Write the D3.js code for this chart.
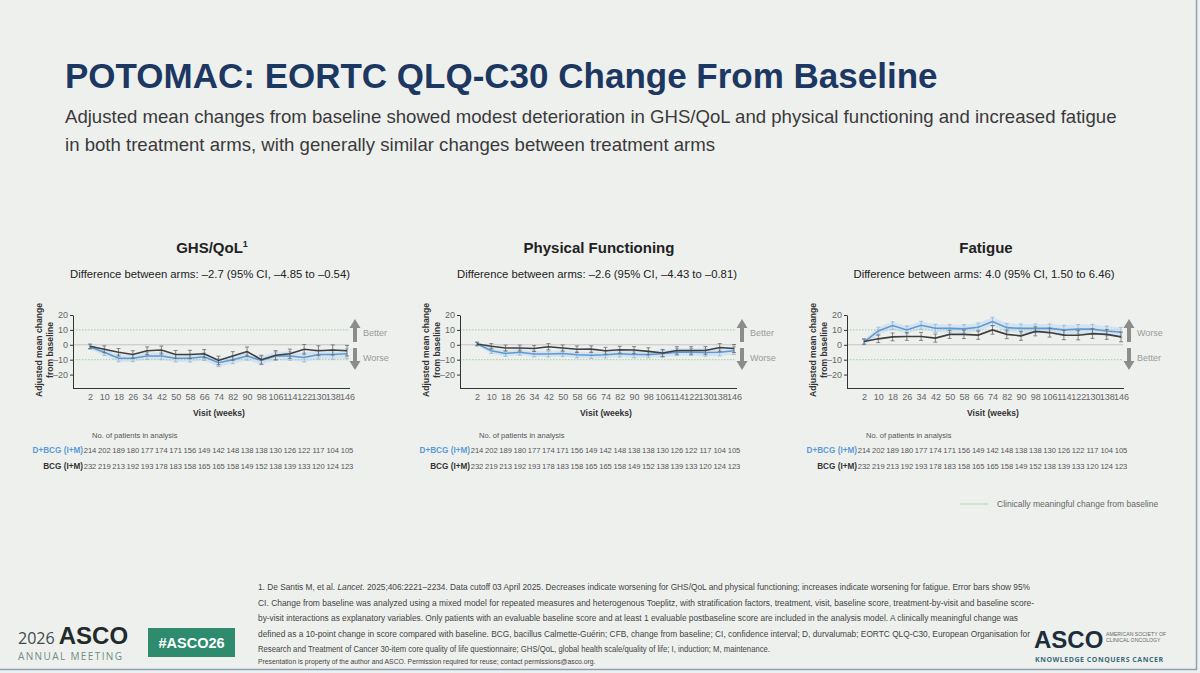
<!DOCTYPE html>
<html>
<head>
<meta charset="utf-8">
<script src="https://cdn.jsdelivr.net/npm/d3@7"></script>
<style>
body{margin:0;background:#eef0ee;}
svg{display:block;font-family:"Liberation Sans",Arial,sans-serif;}
</style>
</head>
<body>
<svg id="slide" width="1200" height="673"></svg>
<script>
// visits and patient counts
let weeks=[2,10,18,26,34,42,50,58,66,74,82,90,98,106,114,122,130,138,146];
let nDbcg=[214,202,189,180,177,174,171,156,149,142,148,138,138,130,126,122,117,104,105];
let nBcg=[232,219,213,192,193,178,183,158,165,165,158,149,152,138,139,133,120,124,123];

// GHS/QoL adjusted mean change
let ghsDbcg=[-1.5,-5,-9,-9,-7.5,-7.5,-9,-9,-8,-12,-10,-7.5,-10.5,-7.5,-7.5,-8.5,-6.5,-6.5,-6];
let ghsBcg=[-1,-3,-5,-6.5,-4,-3.5,-6.5,-6.5,-6,-10.5,-7.5,-4.5,-10,-7,-6,-3,-4,-3.5,-4];
let ghsDbcgCi=[1.5,2.2,2.4,2.4,2.4,2.5,2.5,2.6,2.6,2.7,2.7,2.8,2.8,2.9,2.9,3,3.1,3.2,3.3];
let ghsBcgCi=[1.5,2.3,2.5,2.5,2.6,2.7,2.7,2.8,2.8,2.9,2.9,3,3,3.1,3.1,3.2,3.3,3.4,3.5];

// Physical functioning
let pfDbcg=[0.7,-4,-5.8,-5,-6.2,-6.2,-5.8,-6.7,-7,-6.7,-6,-6.5,-6.5,-6,-4.9,-4.9,-5.2,-5,-4];
let pfBcg=[0.5,-1,-2.2,-2.2,-2.5,-1.3,-2.2,-3,-2.9,-4,-3.3,-3.5,-4.4,-5.5,-3.8,-3.8,-3.8,-1.8,-2.5];
let pfDbcgCi=[1.2,1.8,2,2,2,2,2.1,2.1,2.2,2.2,2.2,2.3,2.3,2.3,2.4,2.4,2.5,2.5,2.6];
let pfBcgCi=[1.2,1.8,2,2,2,2.1,2.1,2.2,2.2,2.3,2.3,2.3,2.4,2.4,2.5,2.5,2.6,2.6,2.7];

// Fatigue
let fatDbcg=[1.8,9.3,12.9,10,13.1,11.1,11,10.7,11.8,15.6,11.5,11,11,11,10,10.5,10.5,9.3,8.4];
let fatBcg=[2.2,4,5.3,5.6,5.6,4.5,7,7,6.5,10,7,6,9,8.2,6.5,6.4,7.5,7,5.3];
let fatDbcgCi=[1.8,2.5,2.6,2.6,2.7,2.7,2.7,2.8,2.8,2.9,2.9,3,3,3,3.1,3.1,3.2,3.3,3.3];
let fatBcgCi=[1.8,2.5,2.6,2.6,2.7,2.7,2.7,2.8,2.8,2.9,2.9,3,3,3,3.1,3.1,3.2,3.3,3.3];

let panelTitles=["GHS/QoL","Physical Functioning","Fatigue"];
let panelDiffs=["Difference between arms: \u20132.7 (95% CI, \u20134.85 to \u20130.54)",
  "Difference between arms: \u20132.6 (95% CI, \u20134.43 to \u20130.81)",
  "Difference between arms: 4.0 (95% CI, 1.50 to 6.46)"];
let panelUp=["Better","Better","Worse"];
let panelDown=["Worse","Worse","Better"];
let yTicks=[20,10,0,-10,-20];
let refLevels=[10,-10];

let blue="#5b9bd5", dark="#3f3f3f";
let svg=d3.select("#slide");

svg.append("rect").attr("width",1200).attr("height",673).attr("fill","#eef0ee");
svg.append("line").attr("x1",1196.5).attr("x2",1196.5).attr("y1",0).attr("y2",670).attr("stroke","#8aa3b6").attr("stroke-width",1.5);
svg.append("line").attr("x1",0).attr("x2",1197).attr("y1",669.5).attr("y2",669.5).attr("stroke","#8aa3b6").attr("stroke-width",1.5);

// header
svg.append("text").text("POTOMAC: EORTC QLQ-C30 Change From Baseline").attr("x",65).attr("y",88)
  .style("font","bold 35px 'Liberation Sans',Arial").style("fill","#1c3761");
svg.append("text").text("Adjusted mean changes from baseline showed modest deterioration in GHS/QoL and physical functioning and increased fatigue")
  .attr("x",65).attr("y",123).style("font","18.6px 'Liberation Sans',Arial").style("fill","#3a3a3a");
svg.append("text").text("in both treatment arms, with generally similar changes between treatment arms")
  .attr("x",65).attr("y",151).style("font","18.6px 'Liberation Sans',Arial").style("fill","#3a3a3a");

let panels=[
  {d:ghsDbcg,b:ghsBcg,dc:ghsDbcgCi,bc:ghsBcgCi},
  {d:pfDbcg,b:pfBcg,dc:pfDbcgCi,bc:pfBcgCi},
  {d:fatDbcg,b:fatBcg,dc:fatDbcgCi,bc:fatBcgCi}
];

panels.forEach((p,i)=>{
  let ox=73+i*387;
  let g=svg.append("g");
  let x=d3.scalePoint().domain(weeks).range([ox+17,ox+274]);
  let y=d3.scaleLinear().domain([-29,20]).range([388,315]);

  let t=g.append("text").attr("x",ox+139).attr("y",253).style("text-anchor","middle")
    .style("font","bold 15px 'Liberation Sans',Arial").style("fill","#222").text(panelTitles[i]);
  if(i==0) t.append("tspan").text("1").attr("dy",-6).style("font-size","9px");
  g.append("text").attr("x",ox+137).attr("y",278).style("text-anchor","middle")
    .style("font","11.3px 'Liberation Sans',Arial").style("fill","#222").text(panelDiffs[i]);

  // reference lines
  g.append("line").attr("x1",ox).attr("x2",ox+276).attr("y1",y(0)).attr("y2",y(0)).attr("stroke","#c4c4c4").attr("stroke-width",1);
  refLevels.forEach(r=>{
    g.append("line").attr("x1",ox).attr("x2",ox+276).attr("y1",y(r)).attr("y2",y(r))
      .attr("stroke","#96c896").attr("stroke-width",0.9).attr("stroke-dasharray","1.5,1.5");
  });

  // axes
  let ya=g.append("g").attr("transform",`translate(${ox},0)`)
    .call(d3.axisLeft(y).tickValues(yTicks).tickSize(3).tickSizeOuter(0).tickPadding(2).tickFormat(d=>d<0?"\u2013"+(-d):d));
  ya.select(".domain").attr("stroke","#333");
  ya.selectAll(".tick line").attr("stroke","#333");
  ya.selectAll("text").style("font","9px 'Liberation Sans',Arial").style("fill","#666");
  let xa=g.append("g").attr("transform","translate(0,388)").call(d3.axisBottom(x).tickSize(0).tickPadding(6));
  xa.select(".domain").remove();
  xa.selectAll("text").style("font","9px 'Liberation Sans',Arial").style("fill","#666");
  g.append("line").attr("x1",ox).attr("x2",ox+277).attr("y1",388.5).attr("y2",388.5).attr("stroke","#333");

  g.append("text").attr("transform",`translate(${ox-31},350) rotate(-90)`).style("text-anchor","middle")
    .style("font","bold 8.6px 'Liberation Sans',Arial").style("fill","#333").text("Adjusted mean change");
  g.append("text").attr("transform",`translate(${ox-20},350) rotate(-90)`).style("text-anchor","middle")
    .style("font","bold 8.6px 'Liberation Sans',Arial").style("fill","#333").text("from baseline");
  g.append("text").attr("x",ox+146).attr("y",416).style("text-anchor","middle")
    .style("font","bold 8.6px 'Liberation Sans',Arial").style("fill","#333").text("Visit (weeks)");

  // series
  let dRows=weeks.map((w,k)=>({w:w,v:p.d[k],c:p.dc[k]}));
  let bRows=weeks.map((w,k)=>({w:w,v:p.b[k],c:p.bc[k]}));
  g.append("path").datum(dRows).attr("fill","#9fc5ea").attr("opacity",0.3)
    .attr("d",d3.area().x(d=>x(d.w)).y0(d=>y(d.v-d.c)).y1(d=>y(d.v+d.c)));
  [[dRows,blue,"#8fb8e0"],[bRows,dark,"#6a6a6a"]].forEach(([rows,col,ecol])=>{
    let eb=g.append("g").attr("stroke",ecol).attr("stroke-width",0.8);
    rows.forEach(d=>{
      eb.append("line").attr("x1",x(d.w)).attr("x2",x(d.w)).attr("y1",y(d.v-d.c)).attr("y2",y(d.v+d.c));
      eb.append("line").attr("x1",x(d.w)-2).attr("x2",x(d.w)+2).attr("y1",y(d.v-d.c)).attr("y2",y(d.v-d.c));
      eb.append("line").attr("x1",x(d.w)-2).attr("x2",x(d.w)+2).attr("y1",y(d.v+d.c)).attr("y2",y(d.v+d.c));
    });
    g.append("path").datum(rows).attr("fill","none").attr("stroke",col).attr("stroke-width",1.6)
      .attr("d",d3.line().x(d=>x(d.w)).y(d=>y(d.v)));
  });

  // direction arrows
  let ax=ox+282;
  g.append("path").attr("fill","#8c8c8c")
    .attr("d",`M${ax},319 L${ax+5.5},328 L${ax+2},328 L${ax+2},342 L${ax-2},342 L${ax-2},328 L${ax-5.5},328 Z`);
  g.append("path").attr("fill","#8c8c8c")
    .attr("d",`M${ax},370 L${ax+5.5},361 L${ax+2},361 L${ax+2},348 L${ax-2},348 L${ax-2},361 L${ax-5.5},361 Z`);
  g.append("text").attr("x",ax+8).attr("y",336).style("font","9px 'Liberation Sans',Arial").style("fill","#9a9a9a").text(panelUp[i]);
  g.append("text").attr("x",ax+8).attr("y",361).style("font","9px 'Liberation Sans',Arial").style("fill","#9a9a9a").text(panelDown[i]);

  // patients table
  g.append("text").attr("x",ox+19).attr("y",438).style("font","7.5px 'Liberation Sans',Arial").style("fill","#555").text("No. of patients in analysis");
  g.append("text").attr("x",ox+10).attr("y",453).style("text-anchor","end").style("font","bold 8.2px 'Liberation Sans',Arial").style("fill",blue).text("D+BCG (I+M)");
  g.append("text").attr("x",ox+10).attr("y",469).style("text-anchor","end").style("font","bold 8.2px 'Liberation Sans',Arial").style("fill","#333").text("BCG (I+M)");
  g.selectAll(".nd").data(nDbcg).enter().append("text").attr("x",(d,k)=>x(weeks[k])).attr("y",453)
    .style("text-anchor","middle").style("font","7.6px 'Liberation Sans',Arial").style("fill","#555").text(d=>d);
  g.selectAll(".nb").data(nBcg).enter().append("text").attr("x",(d,k)=>x(weeks[k])).attr("y",469)
    .style("text-anchor","middle").style("font","7.6px 'Liberation Sans',Arial").style("fill","#555").text(d=>d);
});

// legend
svg.append("line").attr("x1",960).attr("x2",988).attr("y1",504).attr("y2",504).attr("stroke","#b5d4b5").attr("stroke-width",1);
svg.append("text").attr("x",997).attr("y",507).style("font","8.5px 'Liberation Sans',Arial").style("fill","#666").text("Clinically meaningful change from baseline");

// footnotes
let foot=[
  ["1. De Santis M, et al. ",["Lancet"],". 2025;406:2221\u20132234. Data cutoff 03 April 2025. Decreases indicate worsening for GHS/QoL and physical functioning; increases indicate worsening for fatigue. Error bars show 95%"],
  ["CI. Change from baseline was analyzed using a mixed model for repeated measures and heterogenous Toeplitz, with stratification factors, treatment, visit, baseline score, treatment-by-visit and baseline score-"],
  ["by-visit interactions as explanatory variables. Only patients with an evaluable baseline score and at least 1 evaluable postbaseline score are included in the analysis model. A clinically meaningful change was"],
  ["defined as a 10-point change in score compared with baseline. BCG, bacillus Calmette-Gu\u00e9rin; CFB, change from baseline; CI, confidence interval; D, durvalumab; EORTC QLQ-C30, European Organisation for"],
  ["Research and Treatment of Cancer 30-item core quality of life questionnaire; GHS/QoL, global health scale/quality of life; I, induction; M, maintenance."]
];
let footW=[772,776,760,772,512];
foot.forEach((parts,k)=>{
  let t=svg.append("text").attr("x",258).attr("y",590+k*15.5).style("font","8.4px 'Liberation Sans',Arial").style("fill","#444")
    .attr("textLength",footW[k]).attr("lengthAdjust","spacingAndGlyphs");
  parts.forEach(s=>{
    if(Array.isArray(s)) t.append("tspan").style("font-style","italic").text(s[0]);
    else t.append("tspan").text(s);
  });
});
svg.append("text").attr("x",258).attr("y",664).style("font","6.8px 'Liberation Sans',Arial").style("fill","#444")
  .text("Presentation is property of the author and ASCO. Permission required for reuse; contact permissions@asco.org.");

// left logo
let lg=svg.append("text").attr("x",18).attr("y",644);
lg.append("tspan").text("2026 ").style("font","16px 'Open Sans',sans-serif").style("fill","#3e4b48");
lg.append("tspan").text("ASCO").style("font","bold 24px 'Liberation Sans',Arial").style("fill","#222a2a");
svg.append("text").attr("x",18).attr("y",660).attr("textLength",104).style("font","10px 'Open Sans',sans-serif").style("fill","#6f8d84").text("ANNUAL MEETING");
svg.append("rect").attr("x",148).attr("y",628).attr("width",87).attr("height",29).attr("fill","#2e8b6d");
svg.append("text").attr("x",191.5).attr("y",648).style("text-anchor","middle").style("font","bold 14.5px 'Liberation Sans',Arial").style("fill","#fff").text("#ASCO26");

// right logo
svg.append("text").attr("x",1034).attr("y",648).style("font","bold 24px 'Liberation Sans',Arial").style("fill","#1d2d3a").text("ASCO");
svg.append("text").attr("x",1106).attr("y",636).style("font","5.2px 'Liberation Sans',Arial").style("fill","#666").text("AMERICAN SOCIETY OF");
svg.append("text").attr("x",1106).attr("y",642).style("font","5.2px 'Liberation Sans',Arial").style("fill","#666").text("CLINICAL ONCOLOGY");
svg.append("text").attr("x",1035).attr("y",662).attr("textLength",128).style("font","bold 7px 'Open Sans',sans-serif").style("fill","#3b6b7c").text("KNOWLEDGE CONQUERS CANCER");
</script>
</body>
</html>
